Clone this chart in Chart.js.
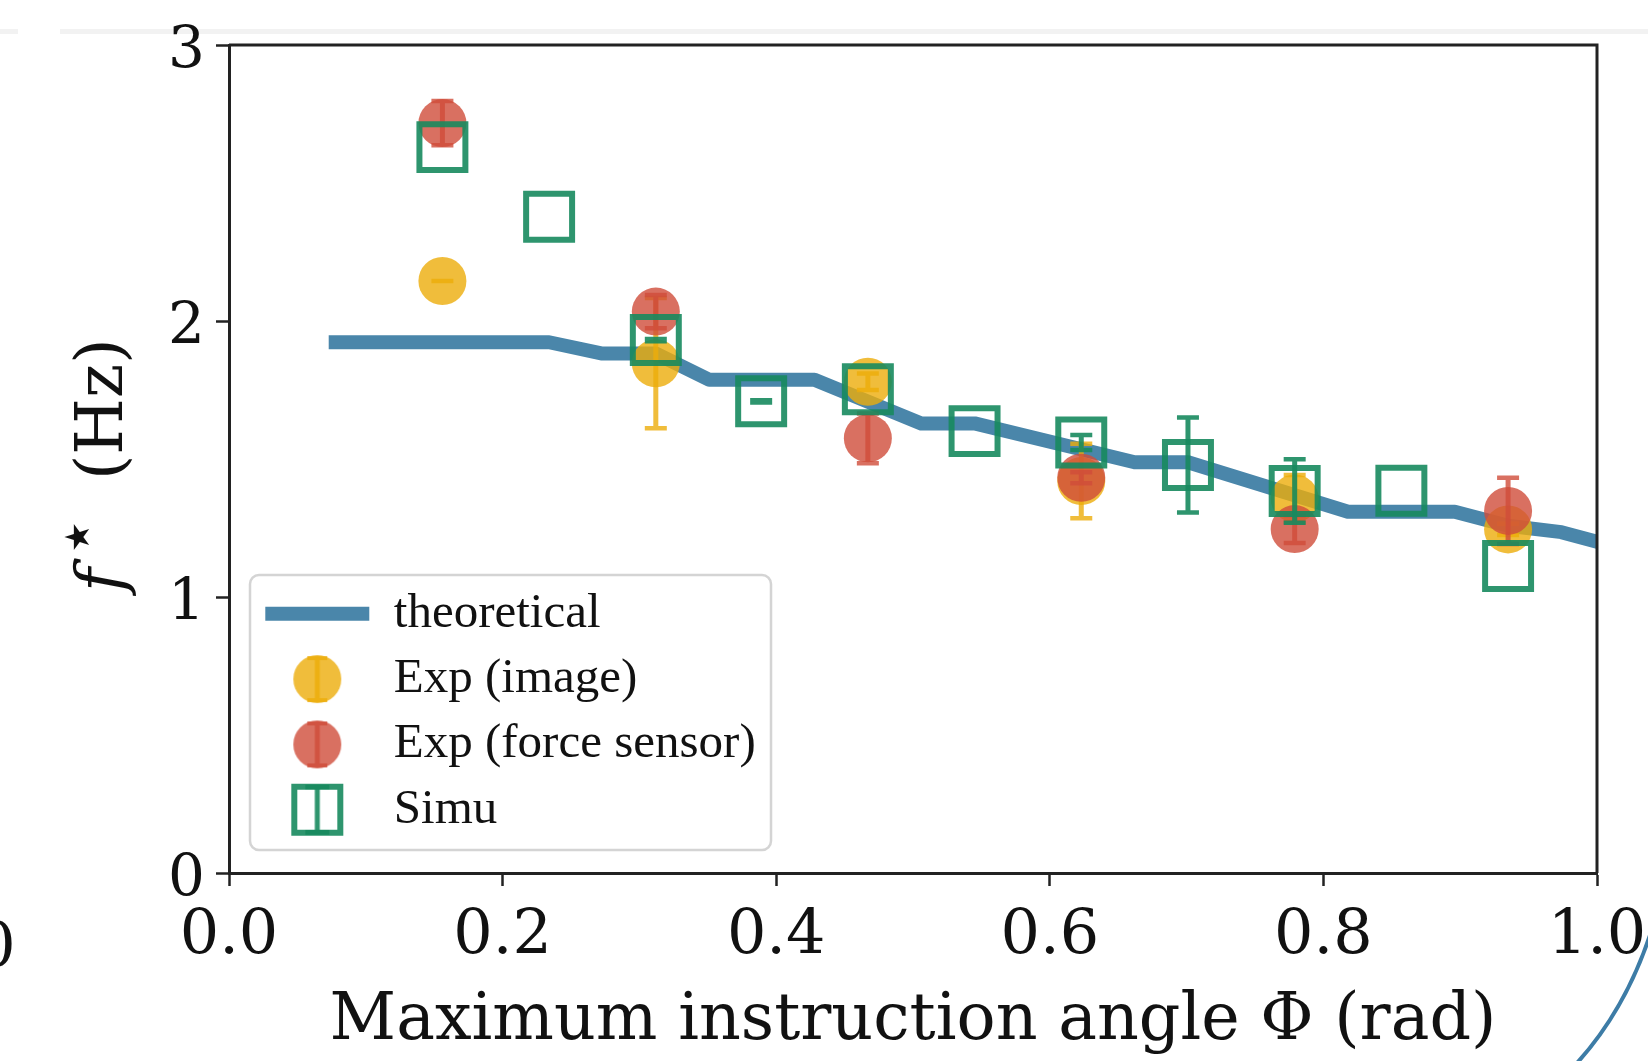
<!DOCTYPE html>
<html>
<head>
<meta charset="utf-8">
<script src="https://cdn.jsdelivr.net/npm/chart.js@4.4.1/dist/chart.umd.min.js"></script>
<style>
html,body{margin:0;padding:0;background:#fff;overflow:hidden}
#wrap{width:1648px;height:1061px;position:relative}
</style>
</head>
<body>
<div id="wrap"><canvas id="c" width="1648" height="1061"></canvas></div>
<script>
// ---------- data ----------
const phiTheory = [0.078, 0.234, 0.273, 0.312, 0.351, 0.428, 0.506, 0.545, 0.662, 0.701, 0.818, 0.896, 0.935, 0.974, 1.013];
const fTheory   = [1.923, 1.923, 1.882, 1.882, 1.787, 1.787, 1.629, 1.629, 1.488, 1.488, 1.309, 1.309, 1.258, 1.235, 1.183];

const phiExp        = [0.156, 0.312, 0.467, 0.623, 0.779, 0.935];
const fExpImage     = [2.145, 1.847, 1.780, 1.420, 1.357, 1.245];
const errExpImage   = [0.000, 0.236, 0.030, 0.135, 0.085, 0.020];
const fExpForce     = [2.717, 2.034, 1.575, 1.432, 1.246, 1.312];
const errExpForce   = [0.080, 0.060, 0.090, 0.020, 0.050, 0.120];

const phiSimu  = [0.156, 0.234, 0.312, 0.389, 0.467, 0.545, 0.623, 0.701, 0.779, 0.857, 0.935];
const fSimu    = [2.630, 2.378, 1.931, 1.709, 1.753, 1.601, 1.560, 1.478, 1.384, 1.385, 1.112];
const errSimu  = [null, null, 0.004, 0.004, null, null, 0.027, 0.172, 0.115, null, null];

const seriesLabels = ['theoretical', 'Exp (image)', 'Exp (force sensor)', 'Simu'];
const xTickValues = [0.0, 0.2, 0.4, 0.6, 0.8, 1.0];
const yTickValues = [0, 1, 2, 3];
const xAxisTitle = 'Maximum instruction angle \u03A6 (rad)';
const yAxisTitleParts = ['f', '\u2605', '(Hz)'];

// ---------- styles ----------
const SERIF = '"DejaVu Serif", "Liberation Serif", serif';
const LEG_FONT = '"Liberation Serif", "DejaVu Serif", serif';
const C_BLUE = '#4A86AA';
const C_YEL = 'rgba(236,172,10,0.8)';
const C_RED = 'rgba(208,76,57,0.8)';
const C_GRN = 'rgba(23,138,94,0.9)';
const INK = '#111';
const AXIS = '#222';

const toPts = (xs, ys) => xs.map((x, i) => ({x: x, y: ys[i]}));

function circleSymbol(color) {
  const c = document.createElement('canvas');
  c.width = 56; c.height = 56;
  const g = c.getContext('2d');
  g.fillStyle = color;
  g.beginPath();
  g.rect(25.5, 5, 5, 46);
  g.rect(18, 5, 20, 4);
  g.rect(18, 47, 20, 4);
  g.fill();
  g.beginPath();
  g.arc(28, 28, 24, 0, Math.PI * 2);
  g.fill();
  return c;
}
function squareSymbol(color) {
  const c = document.createElement('canvas');
  c.width = 60; c.height = 60;
  const g = c.getContext('2d');
  g.strokeStyle = color; g.fillStyle = color;
  g.lineWidth = 6;
  g.strokeRect(7, 7, 46, 46);
  g.beginPath();
  g.rect(27.5, 7, 5, 46);
  g.rect(18, 5, 24, 5);
  g.rect(18, 50, 24, 5);
  g.fill();
  return c;
}
const legendStyles = ['line', circleSymbol(C_YEL), circleSymbol(C_RED), squareSymbol(C_GRN)];

// ---------- plugins ----------
const bgPlugin = {
  id: 'bg',
  beforeDraw(chart) {
    const ctx = chart.ctx;
    ctx.save();
    ctx.fillStyle = '#fff';
    ctx.fillRect(0, 0, chart.width, chart.height);
    // faint strip of the screenshot at the top
    ctx.fillStyle = '#f2f2f2';
    ctx.fillRect(0, 29, 18, 5);
    ctx.fillRect(60, 29, chart.width - 60, 5);
    // legend frame
    const x = 250, y = 575, w = 521, h = 275, r = 9;
    ctx.fillStyle = 'rgba(255,255,255,0.85)';
    ctx.strokeStyle = '#d4d4d4';
    ctx.lineWidth = 2.5;
    ctx.beginPath();
    ctx.roundRect(x, y, w, h, r);
    ctx.fill();
    ctx.stroke();
    ctx.restore();
  }
};

const legendPos = {
  id: 'legendPos',
  afterLayout(chart) {
    const lg = chart.legend;
    if (!lg) return;
    lg.left = 249; lg.top = 573; lg.right = 800; lg.bottom = 1000;
    lg.width = lg.right - lg.left; lg.height = lg.bottom - lg.top;
  }
};

const errorBars = {
  id: 'errorBars',
  beforeDatasetDraw(chart, args) {
    const ds = chart.data.datasets[args.index];
    if (!ds.errors) return;
    const xs = chart.scales.x, ys = chart.scales.y;
    const ctx = chart.ctx;
    ctx.save();
    ctx.fillStyle = ds.errorColor;
    ds.data.forEach((p, i) => {
      const e = ds.errors[i];
      if (e === null || e === undefined) return;
      const px = xs.getPixelForValue(p.x);
      const yTop = ys.getPixelForValue(p.y + e);
      const yBot = ys.getPixelForValue(p.y - e);
      const half = 2.5, capHalf = 11, capT = 4.5;
      ctx.beginPath();
      ctx.rect(px - half, yTop, 2 * half, Math.max(yBot - yTop, 0.01));
      ctx.rect(px - capHalf, yTop - capT / 2, 2 * capHalf, capT);
      ctx.rect(px - capHalf, yBot - capT / 2, 2 * capHalf, capT);
      ctx.fill();
    });
    ctx.restore();
  }
};

const frameAndTitle = {
  id: 'frameAndTitle',
  afterDatasetsDraw(chart) {
    const ctx = chart.ctx, a = chart.chartArea;
    ctx.save();
    ctx.strokeStyle = AXIS;
    ctx.lineWidth = 3;
    ctx.beginPath();
    ctx.moveTo(a.left, a.top);
    ctx.lineTo(a.right, a.top);
    ctx.lineTo(a.right, a.bottom);
    ctx.stroke();
    ctx.restore();
  },
  afterDraw(chart) {
    const ctx = chart.ctx;
    // y axis title: italic f, superscript star, (Hz)
    ctx.save();
    ctx.translate(122, 467);
    ctx.rotate(-Math.PI / 2);
    ctx.fillStyle = INK;
    ctx.textBaseline = 'alphabetic';
    ctx.textAlign = 'center';
    ctx.font = 'italic 65px "DejaVu Serif", serif';
    ctx.fillText(yAxisTitleParts[0], -113, 0);
    ctx.font = '34px "DejaVu Sans", sans-serif';
    ctx.textBaseline = 'middle';
    ctx.fillText(yAxisTitleParts[1], -70, -42);
    ctx.textBaseline = 'alphabetic';
    ctx.textAlign = 'left';
    ctx.font = '65px ' + SERIF;
    ctx.fillText(yAxisTitleParts[2], -13, 0);
    ctx.restore();
    // edge remnants of the neighbouring panel in the screenshot
    ctx.save();
    ctx.fillStyle = INK;
    ctx.font = '62px ' + SERIF;
    ctx.textAlign = 'center';
    ctx.textBaseline = 'middle';
    ctx.fillText('0', -4, 950);
    ctx.strokeStyle = '#3d7ca6';
    ctx.lineWidth = 4;
    ctx.beginPath();
    ctx.moveTo(1650, 935);
    ctx.quadraticCurveTo(1625, 1010, 1577, 1063);
    ctx.stroke();
    ctx.restore();
  }
};

// ---------- chart ----------
const ctx = document.getElementById('c').getContext('2d');
new Chart(ctx, {
  type: 'scatter',
  data: {
    datasets: [
      {
        label: seriesLabels[0],
        data: toPts(phiTheory, fTheory),
        showLine: true,
        borderColor: C_BLUE,
        backgroundColor: C_BLUE,
        borderWidth: 14,
        borderCapStyle: 'square',
        borderJoinStyle: 'round',
        tension: 0,
        pointRadius: 0,
        clip: 0,
        order: 4
      },
      {
        label: seriesLabels[1],
        data: toPts(phiExp, fExpImage),
        errors: errExpImage,
        errorColor: C_YEL,
        pointStyle: 'circle',
        pointRadius: 24,
        backgroundColor: C_YEL,
        borderWidth: 0,
        order: 3
      },
      {
        label: seriesLabels[2],
        data: toPts(phiExp, fExpForce),
        errors: errExpForce,
        errorColor: C_RED,
        pointStyle: 'circle',
        pointRadius: 24,
        backgroundColor: C_RED,
        borderWidth: 0,
        order: 2
      },
      {
        label: seriesLabels[3],
        data: toPts(phiSimu, fSimu),
        errors: errSimu,
        errorColor: C_GRN,
        pointStyle: 'rect',
        pointRadius: 32.5,
        backgroundColor: 'rgba(0,0,0,0)',
        borderColor: C_GRN,
        borderWidth: 6,
        order: 1
      }
    ]
  },
  options: {
    responsive: false,
    animation: false,
    devicePixelRatio: 1,
    events: [],
    layout: { padding: { left: 0, right: 51, top: 45, bottom: 0 } },
    plugins: {
      tooltip: { enabled: false },
      legend: {
        display: true,
        position: 'chartArea',
        align: 'start',
        labels: {
          usePointStyle: true,
          pointStyleWidth: 104,
          padding: 16.3,
          color: INK,
          font: { family: LEG_FONT, size: 49 },
          generateLabels(chart) {
            return chart.data.datasets.map((ds, i) => ({
              text: ds.label,
              fillStyle: i === 0 ? C_BLUE : 'rgba(0,0,0,0)',
              strokeStyle: i === 0 ? C_BLUE : 'rgba(0,0,0,0)',
              lineWidth: i === 0 ? 14 : 0,
              pointStyle: legendStyles[i],
              fontColor: INK,
              hidden: false,
              datasetIndex: i
            }));
          }
        }
      }
    },
    scales: {
      x: {
        type: 'linear',
        position: 'bottom',
        min: 0, max: 1,
        afterBuildTicks(s) { s.ticks = xTickValues.map(v => ({value: v})); },
        ticks: {
          callback: v => Number(v).toFixed(1),
          font: { family: SERIF, size: 62 },
          color: INK,
          padding: 14,
          maxRotation: 0,
          autoSkip: false
        },
        grid: { display: true, drawOnChartArea: false, drawTicks: true, tickLength: 13, tickWidth: 2.5, tickColor: AXIS, color: AXIS },
        border: { display: true, color: AXIS, width: 3 },
        title: {
          display: true,
          text: xAxisTitle,
          color: INK,
          font: { family: SERIF, size: 65 },
          padding: { top: 0, bottom: 0 }
        },
        afterFit(s) { s.height = 188; s.paddingLeft = 0; s.paddingRight = 0; }
      },
      y: {
        type: 'linear',
        position: 'left',
        min: 0, max: 3,
        afterBuildTicks(s) { s.ticks = yTickValues.map(v => ({value: v})); },
        ticks: {
          callback: v => String(v),
          font: { family: SERIF, size: 58 },
          color: INK,
          padding: 11,
          labelOffset: 7
        },
        grid: { display: true, drawOnChartArea: false, drawTicks: true, tickLength: 13, tickWidth: 2.5, tickColor: AXIS, color: AXIS },
        border: { display: true, color: AXIS, width: 3 },
        title: { display: false },
        afterFit(s) { s.width = 229; s.paddingTop = 0; s.paddingBottom = 0; }
      }
    }
  },
  plugins: [bgPlugin, legendPos, errorBars, frameAndTitle]
});
</script>
</body>
</html>
